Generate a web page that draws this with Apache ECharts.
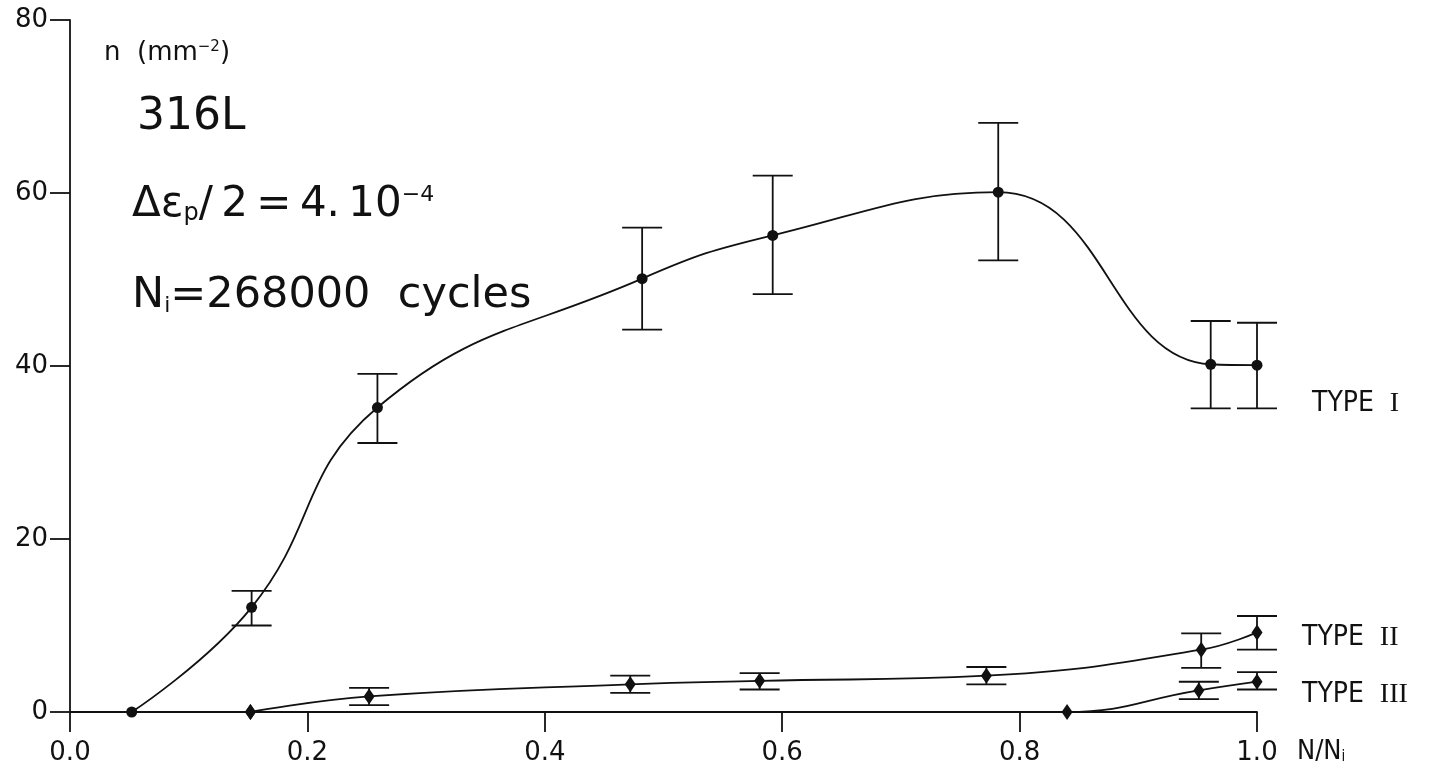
<!DOCTYPE html>
<html>
<head>
<meta charset="utf-8">
<title>316L - n vs N/Ni</title>
<script src="https://cdn.jsdelivr.net/npm/echarts@6/dist/echarts.min.js"></script>
<style>
  html, body { margin: 0; padding: 0; background: #fff; }
  #chart { width: 1430px; height: 784px; }
</style>
</head>
<body>
<div id="chart"></div>
<script>
// 数据
var xTicks = [0, 0.2, 0.4, 0.6, 0.8, 1.0];
var yTicks = [0, 20, 40, 60, 80];

// TYPE I
var type1X    = [0.052, 0.153, 0.259, 0.482, 0.592, 0.782, 0.961, 1.0];
var type1Y    = [0, 12.1, 35.2, 50.1, 55.1, 60.1, 40.2, 40.1];
var type1Low  = [null, 10.0, 31.1, 44.2, 48.3, 52.2, 35.1, 35.1];
var type1High = [null, 14.0, 39.1, 56.0, 62.0, 68.1, 45.2, 45.0];

// TYPE II
var type2X    = [0.152, 0.252, 0.472, 0.581, 0.772, 0.953, 1.0];
var type2Y    = [0, 1.8, 3.2, 3.6, 4.2, 7.2, 9.2];
var type2Low  = [null, 0.8, 2.2, 2.6, 3.2, 5.1, 7.2];
var type2High = [null, 2.8, 4.2, 4.5, 5.2, 9.1, 11.1];

// TYPE III
var type3X    = [0.152, 0.840, 0.951, 1.0];
var type3Y    = [0, 0, 2.5, 3.5];
var type3Low  = [null, null, 1.5, 2.6];
var type3High = [null, null, 3.5, 4.6];

var INK = '#111';
var LW = 1.8;

function pairs(xs, ys) {
    return xs.map(function (x, i) { return [x, ys[i]]; });
}

function bars(xs, lows, highs) {
    var out = [];
    xs.forEach(function (x, i) {
        if (lows[i] != null) out.push([x, lows[i], highs[i]]);
    });
    return out;
}

//误差棒
function renderBar(params, api) {
    var x = api.value(0);
    var lo = api.coord([x, api.value(1)]);
    var hi = api.coord([x, api.value(2)]);
    var hw = 20;
    var st = { stroke: INK, lineWidth: LW };
    return {
        type: 'group',
        children: [
            { type: 'line', shape: { x1: lo[0], y1: lo[1], x2: hi[0], y2: hi[1] }, style: st },
            { type: 'line', shape: { x1: hi[0] - hw, y1: hi[1], x2: hi[0] + hw, y2: hi[1] }, style: st },
            { type: 'line', shape: { x1: lo[0] - hw, y1: lo[1], x2: lo[0] + hw, y2: lo[1] }, style: st }
        ]
    };
}

function lineSeries(name, xs, ys, symbol, size) {
    return {
        name: name,
        type: 'line',
        data: pairs(xs, ys),
        smooth: 0.45,
        symbol: symbol,
        symbolSize: size,
        showSymbol: true,
        lineStyle: { color: INK, width: LW },
        itemStyle: { color: INK },
        z: 3,
        animation: false
    };
}

function barSeries(name, xs, lows, highs) {
    return {
        name: name + ' err',
        type: 'custom',
        renderItem: renderBar,
        data: bars(xs, lows, highs),
        z: 2,
        animation: false
    };
}

var bigFont = '"DejaVu Sans", sans-serif';
var narrowFont = '"Liberation Sans Narrow", "DejaVu Sans Condensed", "DejaVu Sans", sans-serif';
var romanFont = '"Liberation Serif", serif';
var TS = '\u2009';

var chart = echarts.init(document.getElementById('chart'));
chart.setOption({
    backgroundColor: '#fff',
    animation: false,
    grid: { left: 70, right: 173, top: 20, bottom: 72 },
    xAxis: {
        type: 'value',
        min: 0,
        max: 1,
        interval: 0.2,
        splitLine: { show: false },
        axisLine: { onZero: false, lineStyle: { color: INK, width: LW } },
        axisTick: { inside: false, length: 20, lineStyle: { color: INK, width: LW } },
        axisLabel: {
            margin: 28,
            color: INK,
            fontSize: 26,
            fontFamily: 'DejaVu Sans',
            formatter: function (v) { return v.toFixed(1); }
        }
    },
    yAxis: {
        type: 'value',
        min: 0,
        max: 80,
        interval: 20,
        splitLine: { show: false },
        axisLine: { show: true, lineStyle: { color: INK, width: LW } },
        axisTick: { show: true, inside: false, length: 20, lineStyle: { color: INK, width: LW } },
        axisLabel: { margin: 22, color: INK, fontSize: 26, fontFamily: 'DejaVu Sans' }
    },
    graphic: [
        {
            type: 'text', left: 104, top: 40,
            style: {
                text: 'n  (mm{sup|−2})',
                fill: INK, fontSize: 26, fontFamily: 'DejaVu Sans',
                rich: { sup: { fontSize: 15, verticalAlign: 'top', fill: INK, fontFamily: 'DejaVu Sans' } }
            }
        },
        {
            type: 'text', left: 137, top: 96,
            style: { text: '316L', fill: INK, fontSize: 44, fontFamily: bigFont }
        },
        {
            type: 'text', left: 132, top: 184,
            style: {
                text: 'Δε{sub|p}/' + TS + '2' + TS + '=' + TS + '4.' + TS + '10{sup|−4}',
                fill: INK, fontSize: 42, fontFamily: bigFont,
                rich: {
                    sub: { fontSize: 24, verticalAlign: 'bottom', fill: INK, fontFamily: bigFont },
                    sup: { fontSize: 22, verticalAlign: 'top', fill: INK, fontFamily: bigFont }
                }
            }
        },
        {
            type: 'text', left: 132, top: 274,
            style: {
                text: 'N{sub|i}=268000  cycles',
                fill: INK, fontSize: 43, fontFamily: bigFont,
                rich: { sub: { fontSize: 22, verticalAlign: 'bottom', fill: INK, fontFamily: bigFont } }
            }
        },
        {
            type: 'text', left: 1312, top: 390,
            style: {
                text: 'TYPE  {r|I}', fill: INK, fontSize: 28, fontFamily: narrowFont,
                rich: { r: { fontSize: 28, fill: INK, fontFamily: romanFont } }
            }
        },
        {
            type: 'text', left: 1302, top: 624,
            style: {
                text: 'TYPE  {r|II}', fill: INK, fontSize: 28, fontFamily: narrowFont,
                rich: { r: { fontSize: 28, fill: INK, fontFamily: romanFont } }
            }
        },
        {
            type: 'text', left: 1302, top: 681,
            style: {
                text: 'TYPE  {r|III}', fill: INK, fontSize: 28, fontFamily: narrowFont,
                rich: { r: { fontSize: 28, fill: INK, fontFamily: romanFont } }
            }
        },
        {
            type: 'text', left: 1297, top: 738,
            style: {
                text: 'N/N{sub|i}', fill: INK, fontSize: 27, fontFamily: narrowFont,
                rich: { sub: { fontSize: 15, verticalAlign: 'bottom', fill: INK, fontFamily: narrowFont } }
            }
        }
    ],
    series: [
        barSeries('TYPE I', type1X, type1Low, type1High),
        barSeries('TYPE II', type2X, type2Low, type2High),
        barSeries('TYPE III', type3X, type3Low, type3High),
        lineSeries('TYPE I', type1X, type1Y, 'circle', 11),
        lineSeries('TYPE II', type2X, type2Y, 'diamond', [11, 16]),
        lineSeries('TYPE III', type3X, type3Y, 'diamond', [11, 16])
    ]
});
</script>
</body>
</html>
